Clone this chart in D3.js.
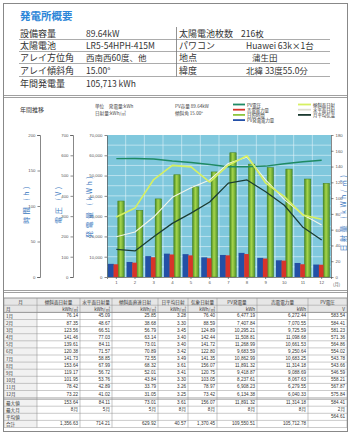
<!DOCTYPE html>
<html><head><meta charset="utf-8">
<script src="https://cdn.jsdelivr.net/npm/d3@7"></script>
<style>
body{margin:0;background:#fff}
svg{display:block;font-family:"Noto Sans CJK JP","Noto Sans",sans-serif}
</style></head>
<body><svg id="c" width="351" height="435"></svg>
<script>
// ---------------- data ----------------
const months = [1,2,3,4,5,6,7,8,9,10,11,12];
const monthLabels = ["1月","2月","3月","4月","5月","6月","7月","8月","9月","10月","11月","12月"];
const tiltIrradiation = [76.14,87.35,123.56,141.46,139.61,120.38,141.73,153.64,119.17,101.95,78.42,73.22];
const horizIrradiation = [45.09,48.67,66.51,77.03,84.11,71.57,58.85,67.99,56.72,53.76,42.89,41.02];
const directIrradiation = [25.85,38.68,56.79,63.14,73.01,70.89,72.55,68.32,52.01,43.84,33.79,31.05];
const dailyIrradiation = [3.28,3.30,3.45,3.40,3.40,3.42,3.49,3.61,3.41,3.30,3.26,3.25];
const meteoIrradiation = [76.40,88.59,124.89,142.44,141.72,122.80,141.35,156.07,120.75,103.05,78.97,73.42];
const pvEnergy = [6477.19,7407.84,10295.21,11508.81,11268.99,9683.59,10862.99,11891.32,9418.87,8237.61,6908.23,6134.38];
const soldEnergy = [6272.44,7070.55,9725.59,11098.68,10661.53,9250.64,10683.25,11314.18,9088.69,8067.63,6279.55,6040.33];
const pvVoltage = [583.54,584.41,581.23,571.36,564.86,554.02,543.78,543.66,546.59,558.21,567.87,575.84];
const sunshineHours = [107,94,110,144,127,148,175,159,154,152,138,132];
const calcIrradiation = [51,57,76,101,113,123,144,152,123,98,79,66];
const temperatureLine = [35,33,51,68,81,95,119,123,108,91,63,47];

const hourTicks = [0,50,100,150,200];
const voltTicks = [0,100,200,300,400,500,600,700];
const kwhTicks = [0,10000,20000,30000,40000,50000,60000,70000];
const irrTicks = [0,20,40,60,80,100,120,140,160,180];

const infoLeftLabels = ["設備容量","太陽電池","アレイ方位角","アレイ傾斜角","年間発電量"];
const infoLeftValues = ["89.64kW","LR5-54HPH-415M","西南西60度、他","15.00°","105,713 kWh"];
const infoRightLabels = ["太陽電池枚数","パワコン","地点","緯度"];
const infoRightValues = ["216枚","Huawei 63k×1台","蒲生田","北緯 33度55.0分"];

const tableHeaders = ["月","傾斜面日射量","水平面日射量","傾斜面直達日射","日平均日射","気象日射量","PV発電量","売電電力量","PV電圧"];
const tableUnits = ["月","kWh/㎡","kWh/㎡","kWh/㎡","kWh/㎡","kWh/㎡","kWh","kWh","V"];
const summaryLabels = ["最大値","最大月","平均値","合計"];
const summaryMax = ["153.64","84.11","73.01","3.61","156.07","11,891.32","11,314.18","584.41"];
const summaryMonth = ["8月","5月","5月","8月","8月","8月","8月","2月"];
const summaryAvg = ["","","","","","","","564.61"];
const summaryTotal = ["1,356.63","714.21","629.92","40.57","1,370.45","109,550.51","105,712.78",""];

const legendLeft = [["PV電圧","#1f8a64"],["売電電力量","#d8342a"],["日照時間","#8cc63e"],["PV発電電力量","#2450a8"]];
const legendRight = [["傾斜面日射","#d6f062"],["水平面日射","#f4f4ec"],["月平均気温","#1b3a30"]];

// ---------------- page frame ----------------
const svg = d3.select("#c");
svg.append("rect").attr("x",3.5).attr("y",3.5).attr("width",344).attr("height",428).attr("fill","none").attr("stroke","#888");
[95,97,290,292].forEach(y=>svg.append("line").attr("x1",3.5).attr("x2",347.5).attr("y1",y+.5).attr("y2",y+.5).attr("stroke","#888").attr("stroke-width",0.8));

// ---------------- info section ----------------
svg.append("text").attr("x",20).attr("y",15).attr("dominant-baseline","central")
  .attr("font-size",10.5).attr("font-weight","bold").attr("fill","#2c86d8").text("発電所概要");
const rowY = [33,45,57,70,83];
infoLeftLabels.forEach((t,i)=>{
  svg.append("text").attr("x",20).attr("y",rowY[i]).attr("dominant-baseline","central").attr("font-size",9).attr("fill","#333").text(t);
  svg.append("text").attr("x",86).attr("y",rowY[i]).attr("dominant-baseline","central").attr("font-size",8.5).attr("fill","#333").text(infoLeftValues[i]);
  if(i<4) svg.append("line").attr("x1",19).attr("x2",330).attr("y1",rowY[i]+6.5).attr("y2",rowY[i]+6.5).attr("stroke","#888").attr("stroke-width",0.7);
});
infoRightLabels.forEach((t,i)=>{
  svg.append("text").attr("x",179).attr("y",rowY[i]).attr("dominant-baseline","central").attr("font-size",9).attr("fill","#333").text(t);
  svg.append("text").attr("x",i==2?252:(i==0?241:246)).attr("y",rowY[i]).attr("dominant-baseline","central").attr("font-size",8.5).attr("fill","#333").text(infoRightValues[i]);
});
svg.append("line").attr("x1",176.5).attr("x2",176.5).attr("y1",27).attr("y2",76.5).attr("stroke","#777").attr("stroke-width",0.8);

// ---------------- chart ----------------
const x = d3.scaleBand().domain(months).range([107,331]).padding(0);
const bw = x.bandwidth();
const yKwh = d3.scaleLinear().domain([0,70000]).range([277,135]);
const yHour = d3.scaleLinear().domain([0,200]).range([277,135]);
const yVolt = d3.scaleLinear().domain([0,700]).range([277,135]);
const yIrr = d3.scaleLinear().domain([0,180]).range([277,135]);

svg.append("text").attr("x",20).attr("y",109).attr("font-size",6).attr("fill","#333").attr("dominant-baseline","central").text("年間推移");
[["単位　発電量:kWh",95,106],["日射量:kWh/㎡",95,112.5],["PV容量 89.64kW",175,106],["傾斜角 15.00°",175,112.5]]
  .forEach(d=>svg.append("text").attr("x",d[1]).attr("y",d[2]).attr("font-size",4.6).attr("fill","#444").attr("dominant-baseline","central").text(d[0]));

legendLeft.forEach((d,i)=>{
  const yy=104.5+i*5.2;
  svg.append("line").attr("x1",233).attr("x2",245).attr("y1",yy).attr("y2",yy).attr("stroke",d[1]).attr("stroke-width",1.8);
  svg.append("text").attr("x",247).attr("y",yy).attr("font-size",4.4).attr("fill","#333").attr("dominant-baseline","central").text(d[0]);
});
legendRight.forEach((d,i)=>{
  const yy=104.5+i*5.2;
  svg.append("line").attr("x1",298).attr("x2",311).attr("y1",yy).attr("y2",yy).attr("stroke",d[1]==="#f4f4ec"?"#dcdcd0":d[1]).attr("stroke-width",1.8);
  svg.append("text").attr("x",313).attr("y",yy).attr("font-size",4.4).attr("fill","#333").attr("dominant-baseline","central").text(d[0]);
});

// plot background + grid
svg.append("rect").attr("x",107).attr("y",135).attr("width",224).attr("height",142).attr("fill","#80c8dd");
const grid = svg.append("g").attr("stroke","#f2fbff").attr("stroke-width",0.6).attr("opacity",0.85);
d3.range(5000,70000,5000).forEach(v=>grid.append("line").attr("x1",107).attr("x2",331).attr("y1",yKwh(v)).attr("y2",yKwh(v)));
months.slice(1).forEach(m=>grid.append("line").attr("x1",x(m)).attr("x2",x(m)).attr("y1",135).attr("y2",277));

// green gradient bars
const defs = svg.append("defs");
const grad = defs.append("linearGradient").attr("id","gbar").attr("x1","0").attr("x2","1").attr("y1","0").attr("y2","0");
grad.append("stop").attr("offset","0%").attr("stop-color","#4a8a22");
grad.append("stop").attr("offset","45%").attr("stop-color","#a6d64c");
grad.append("stop").attr("offset","100%").attr("stop-color","#55942a");

svg.append("g").selectAll("rect").data(months).join("rect")
  .attr("x",m=>x(m)+bw*0.58).attr("width",bw*0.34)
  .attr("y",(m,i)=>yHour(sunshineHours[i])).attr("height",(m,i)=>277-yHour(sunshineHours[i]))
  .attr("fill","url(#gbar)").attr("stroke","#447f1e").attr("stroke-width",0.5);
svg.append("g").selectAll("rect").data(months).join("rect")
  .attr("x",m=>x(m)+bw*0.05).attr("width",bw*0.32)
  .attr("y",(m,i)=>yKwh(pvEnergy[i])).attr("height",(m,i)=>277-yKwh(pvEnergy[i]))
  .attr("fill","#2350a6");
svg.append("g").selectAll("rect").data(months).join("rect")
  .attr("x",m=>x(m)+bw*0.35).attr("width",bw*0.25)
  .attr("y",(m,i)=>yKwh(soldEnergy[i])).attr("height",(m,i)=>277-yKwh(soldEnergy[i]))
  .attr("fill","#d8342a");

function drawLine(vals, scale, color, w){
  const line = d3.line().x((d,i)=>x(months[i])+bw/2).y(d=>scale(d));
  svg.append("path").attr("d",line(vals)).attr("fill","none").attr("stroke",color).attr("stroke-width",w).attr("stroke-linejoin","round");
}
drawLine(pvVoltage,yVolt,"#1f8a64",1.5);
drawLine(calcIrradiation,yIrr,"#f4f6ea",1.1);
drawLine(tiltIrradiation,yIrr,"#d6f062",1.6);
drawLine(temperatureLine,yIrr,"#1b3d33",1.3);

// axes
function styleAxis(g){
  g.selectAll("path,line").attr("stroke","#555").attr("stroke-width",0.7);
  g.selectAll("text").attr("font-size",4.3).attr("fill","#555").attr("font-family","Liberation Sans, sans-serif");
}
svg.append("g").attr("transform","translate(40,0)").call(d3.axisLeft(yHour).tickValues(hourTicks).tickSize(2.5).tickSizeOuter(3).tickPadding(2)).call(styleAxis);
svg.append("g").attr("transform","translate(73,0)").call(d3.axisLeft(yVolt).tickValues(voltTicks).tickSize(2.5).tickSizeOuter(3).tickPadding(2)).call(styleAxis);
svg.append("g").attr("transform","translate(107,0)").call(d3.axisLeft(yKwh).tickValues(kwhTicks).tickFormat(d3.format(",")).tickSize(2.5).tickSizeOuter(0).tickPadding(2)).call(styleAxis);
svg.append("g").attr("transform","translate(331,0)").call(d3.axisRight(yIrr).tickValues(irrTicks).tickSize(2.5).tickSizeOuter(0).tickPadding(2)).call(styleAxis);
svg.append("g").attr("transform","translate(0,277)").call(d3.axisBottom(x).tickSize(2).tickPadding(2)).call(styleAxis);
svg.append("text").attr("x",333).attr("y",286).attr("font-size",4.3).attr("fill","#555").text("(月)");

function vLabel(cx, cy, txt){
  svg.append("text").attr("transform",`translate(${cx},${cy}) rotate(-90)`).attr("text-anchor","middle")
    .attr("dominant-baseline","central").attr("font-size",7).attr("letter-spacing",2.5).attr("fill","#3a78c0").text(txt);
}
vLabel(26,204,"時間 (h)");
vLabel(58,204,"電圧 (V)");
vLabel(89,206,"発電量 (kWh)");
vLabel(343,212,"日射量 (kWh/㎡)");

// ---------------- table ----------------
const colX = [4,37,80,112,158,188,217,257,308,347];
const tTop = 298;
const hdrH = 7.2;
const dataTop = tTop + 2*hdrH;
const rowH = 7.1;
const sumTop = dataTop + 12*rowH + 1.5;
const tBottom = sumTop + 4*rowH;
const tb = svg.append("g").attr("font-size",4.6).attr("fill","#333");
tb.append("rect").attr("x",colX[0]).attr("y",tTop).attr("width",colX[9]-colX[0]).attr("height",2*hdrH).attr("fill","#e6e6e6");
tb.append("rect").attr("x",colX[0]).attr("y",dataTop).attr("width",colX[1]-colX[0]).attr("height",tBottom-dataTop).attr("fill","#f1f1f1");
const lines = tb.append("g").attr("stroke","#8a8a8a").attr("stroke-width",0.5);
colX.forEach(cx=>lines.append("line").attr("x1",cx).attr("x2",cx).attr("y1",tTop).attr("y2",tBottom));
const hY = [tTop, tTop+hdrH, dataTop].concat(d3.range(1,12).map(i=>dataTop+i*rowH)).concat([dataTop+12*rowH, sumTop]).concat(d3.range(1,5).map(i=>sumTop+i*rowH));
hY.forEach(yy=>lines.append("line").attr("x1",colX[0]).attr("x2",colX[9]).attr("y1",yy).attr("y2",yy)
   .attr("stroke-width",(yy===dataTop||yy===sumTop||yy===tTop)?0.9:0.45));

tableHeaders.forEach((h,j)=>{
  tb.append("text").attr("x",(colX[j]+colX[j+1])/2).attr("y",tTop+hdrH/2).attr("text-anchor","middle").attr("dominant-baseline","central").text(h);
  tb.append("text").attr("x",j===0?colX[0]+2:colX[j+1]-2).attr("y",tTop+1.5*hdrH).attr("text-anchor",j===0?"start":"end").attr("dominant-baseline","central").text(tableUnits[j]);
});
const cols = [tiltIrradiation,horizIrradiation,directIrradiation,dailyIrradiation,meteoIrradiation,pvEnergy,soldEnergy,pvVoltage];
const fmt = d3.format(",.2f");
monthLabels.forEach((ml,i)=>{
  const cy = dataTop + i*rowH + rowH/2;
  tb.append("text").attr("x",colX[0]+2).attr("y",cy).attr("dominant-baseline","central").text(ml);
  cols.forEach((c,j)=>tb.append("text").attr("x",colX[j+2]-2).attr("y",cy).attr("text-anchor","end").attr("dominant-baseline","central")
    .attr("font-family","Liberation Sans, sans-serif").text(fmt(c[i])));
});
[summaryMax,summaryMonth,summaryAvg,summaryTotal].forEach((row,r)=>{
  const cy = sumTop + r*rowH + rowH/2;
  tb.append("text").attr("x",colX[0]+2).attr("y",cy).attr("dominant-baseline","central").text(summaryLabels[r]);
  row.forEach((v,j)=>tb.append("text").attr("x",colX[j+2]-2).attr("y",cy).attr("text-anchor","end").attr("dominant-baseline","central")
    .attr("font-family","Liberation Sans, Noto Sans CJK JP, sans-serif").text(v));
});
</script></body></html>
